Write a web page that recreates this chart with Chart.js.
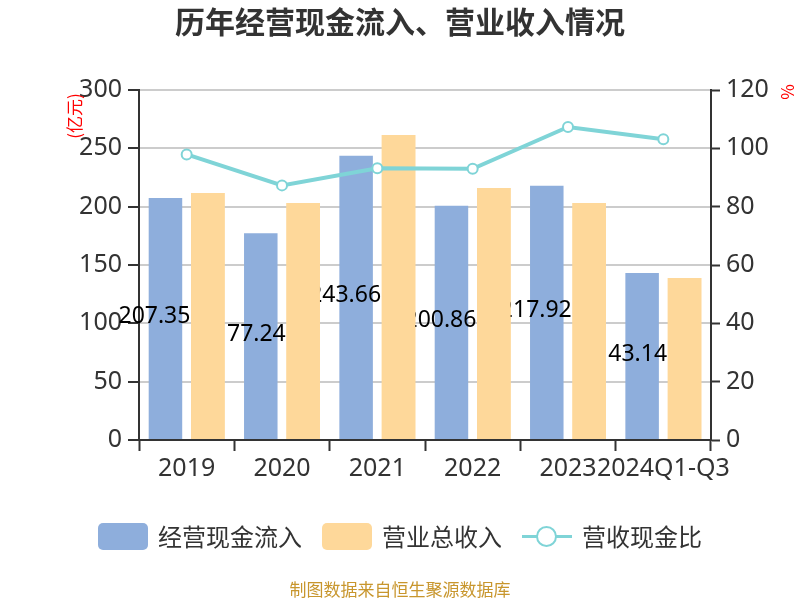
<!DOCTYPE html>
<html>
<head>
<meta charset="utf-8">
<script src="https://cdn.jsdelivr.net/npm/chart.js@4/dist/chart.umd.min.js"></script>
<style>
  body { margin: 0; background: #fff; }
  #wrap { position: relative; width: 800px; height: 600px; font-family: "Noto Sans CJK SC", "Noto Sans", sans-serif; color: #333; }
  #title { position: absolute; left: 0; top: 2px; width: 800px; text-align: center; font-size: 30px; font-weight: bold; line-height: 36px; }
  #legend { position: absolute; left: 0; top: 518px; width: 800px; display: flex; justify-content: center; align-items: center; font-size: 24px; line-height: 36px; }
  .item { display: flex; align-items: center; margin: 0 10px; }
  .box { width: 50px; height: 27px; border-radius: 5px; margin-right: 10px; }
  .lineMark { position: relative; width: 50px; height: 27px; margin-right: 10px; }
  .lineMark::before { content: ''; position: absolute; left: 0; top: 12px; width: 50px; height: 3px; background: #7fd4d7; }
  .lineMark::after { content: ''; position: absolute; left: 14px; top: 3px; width: 17px; height: 17px; border: 2px solid #7fd4d7; border-radius: 50%; background: #fff; }
  #src { position: absolute; left: 0; top: 578px; width: 800px; text-align: center; font-size: 17px; color: #c8962d; line-height: 22px; }
</style>
</head>
<body>
<div id="wrap">
  <canvas id="chart" width="800" height="600"></canvas>
  <div id="title">历年经营现金流入、营业收入情况</div>
  <div id="legend">
    <div class="item"><span class="box" style="background:#8eaedc"></span>经营现金流入</div>
    <div class="item"><span class="box" style="background:#fed89a"></span>营业总收入</div>
    <div class="item"><span class="lineMark"></span>营收现金比</div>
  </div>
  <div id="src">制图数据来自恒生聚源数据库</div>
</div>
<script>
//Data
const years = ['2019', '2020', '2021', '2022', '2023', '2024Q1-Q3'];
const cashIn = [207.35, 177.24, 243.66, 200.86, 217.92, 143.14];
const revenue = [211.7, 203.1, 261.4, 216.0, 203.1, 138.9];
const cashRatio = [97.9, 87.3, 93.2, 93.0, 107.3, 103.1];

const blue = '#8eaedc';
const orange = '#fed89a';
const teal = '#7fd4d7';
const tickFont = { family: '"Noto Sans", "Noto Sans CJK SC", sans-serif', size: 25 };

//Value labels on the cash bars, drawn under the revenue bars
const barValues = {
    id: 'barValues',
    afterDatasetDraw(chart, args) {
        if (args.index !== 0) return;
        const ctx = chart.ctx;
        ctx.save();
        ctx.font = '23px "Noto Sans", sans-serif';
        ctx.fillStyle = '#000';
        ctx.textAlign = 'center';
        ctx.textBaseline = 'middle';
        args.meta.data.forEach((bar, i) => {
            ctx.fillText(cashIn[i].toFixed(2), bar.x - 11, (bar.y + bar.base) / 2 - 2);
        });
        ctx.restore();
        chart.getDatasetMeta(1).data.forEach(bar => bar.draw(ctx));
    }
};

//Axis names
const axisNames = {
    id: 'axisNames',
    afterDraw(chart) {
        const ctx = chart.ctx;
        ctx.save();
        ctx.fillStyle = '#ff0000';
        ctx.font = '17px "Noto Sans CJK SC", sans-serif';
        ctx.textAlign = 'center';
        ctx.textBaseline = 'middle';
        ctx.translate(75, 116);
        ctx.rotate(-Math.PI / 2);
        ctx.fillText('(亿元)', 0, 0);
        ctx.restore();
        ctx.save();
        ctx.fillStyle = '#ff0000';
        ctx.font = '17px "Noto Sans CJK SC", sans-serif';
        ctx.textAlign = 'center';
        ctx.textBaseline = 'middle';
        ctx.translate(788, 92);
        ctx.rotate(-Math.PI / 2);
        ctx.fillText('%', 0, 0);
        ctx.restore();
    }
};

new Chart(document.getElementById('chart'), {
    data: {
        labels: years,
        datasets: [{
            type: 'bar',
            label: '经营现金流入',
            data: cashIn,
            backgroundColor: blue,
            yAxisID: 'y',
            categoryPercentage: 0.89,
            barPercentage: 0.79
        }, {
            type: 'bar',
            label: '营业总收入',
            data: revenue,
            backgroundColor: orange,
            yAxisID: 'y',
            categoryPercentage: 0.89,
            barPercentage: 0.79
        }, {
            type: 'line',
            label: '营收现金比',
            data: cashRatio,
            yAxisID: 'y1',
            order: -1,
            borderColor: teal,
            borderWidth: 4,
            pointRadius: 5,
            pointBorderWidth: 2,
            pointBackgroundColor: '#fff',
            pointBorderColor: teal,
            tension: 0
        }]
    },
    options: {
        responsive: false,
        animation: false,
        layout: { padding: { top: 90, bottom: 100 } },
        plugins: {
            legend: { display: false },
            tooltip: { enabled: false }
        },
        scales: {
            x: {
                grid: { offset: true, drawOnChartArea: false, tickColor: '#333', tickLength: 11, tickWidth: 2 },
                border: { color: '#333', width: 2 },
                ticks: { color: '#333', font: tickFont, autoSkip: false, maxRotation: 0, padding: 3 },
                afterFit: s => { s.height = 60; }
            },
            y: {
                position: 'left',
                min: 0,
                max: 300,
                ticks: { stepSize: 50, color: '#333', font: tickFont, padding: 6 },
                grid: { color: '#cccccc', lineWidth: 2, tickColor: '#333', tickLength: 11, tickWidth: 2 },
                border: { color: '#333', width: 2 },
                afterFit: s => { s.width = 139; }
            },
            y1: {
                position: 'right',
                min: 0,
                max: 120,
                ticks: { stepSize: 20, color: '#333', font: tickFont, padding: 6 },
                grid: { drawOnChartArea: false, tickColor: '#333', tickLength: 9, tickWidth: 2 },
                border: { color: '#333', width: 2 },
                afterFit: s => { s.width = 89; }
            }
        }
    },
    plugins: [barValues, axisNames]
});
</script>
</body>
</html>
